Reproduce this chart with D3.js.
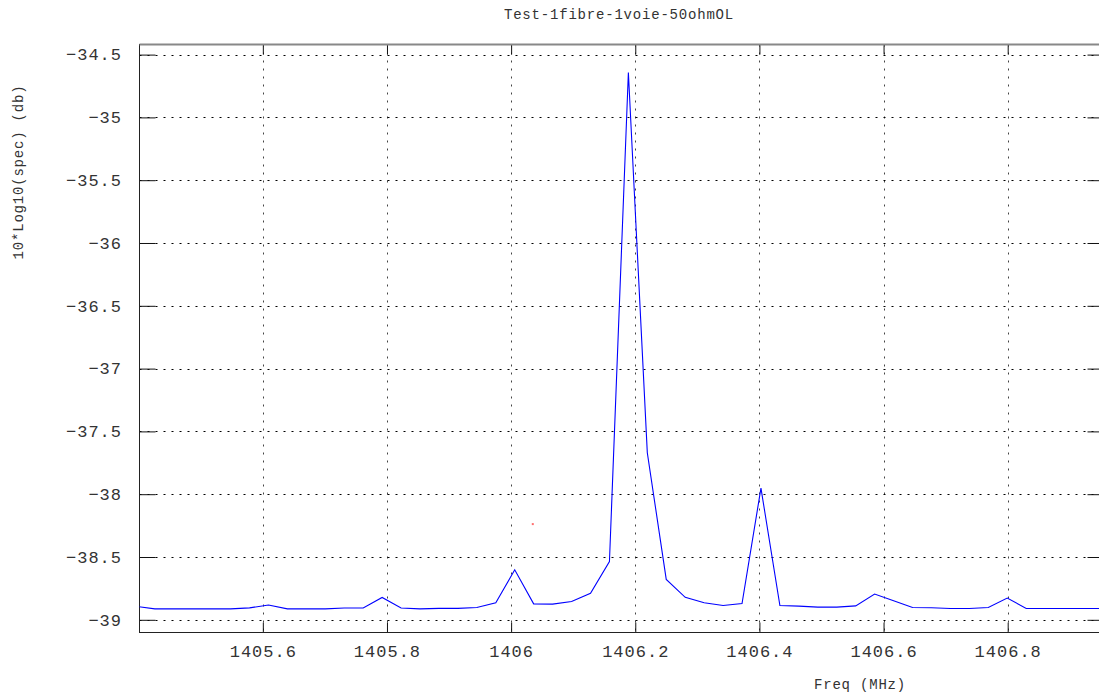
<!DOCTYPE html>
<html>
<head>
<meta charset="utf-8">
<script src="https://cdn.jsdelivr.net/npm/d3@7"></script>
<style>
  html, body { margin: 0; padding: 0; background: #ffffff; }
  svg { display: block; }
  text { font-family: "Liberation Mono", "DejaVu Sans Mono", monospace; fill: #333; }
</style>
</head>
<body>
<svg id="chart" width="1099" height="697"></svg>
<script>
// ---- data ----
const title = "Test-1fibre-1voie-50ohmOL";
const xLabel = "Freq (MHz)";
const yLabel = "10*Log10(spec) (db)";

const freq = [
  1405.3954, 1405.4260, 1405.4565, 1405.4870, 1405.5175, 1405.5480, 1405.5786,
  1405.6091, 1405.6396, 1405.6701, 1405.7006, 1405.7311, 1405.7617, 1405.7922,
  1405.8227, 1405.8532, 1405.8837, 1405.9142, 1405.9448, 1405.9753, 1406.0058,
  1406.0363, 1406.0668, 1406.0974, 1406.1279, 1406.1584, 1406.1889, 1406.2194,
  1406.2499, 1406.2805, 1406.3110, 1406.3415, 1406.3720, 1406.4025, 1406.4330,
  1406.4636, 1406.4941, 1406.5246, 1406.5551, 1406.5856, 1406.6162, 1406.6467,
  1406.6772, 1406.7077, 1406.7382, 1406.7687, 1406.7993, 1406.8298, 1406.8603,
  1406.8908, 1406.9213, 1406.9518
];
const spec = [
  -38.893, -38.913, -38.913, -38.913, -38.913, -38.913, -38.905,
  -38.882, -38.913, -38.913, -38.913, -38.906, -38.906, -38.822,
  -38.906, -38.913, -38.909, -38.909, -38.902, -38.865, -38.602,
  -38.873, -38.875, -38.854, -38.789, -38.537, -34.643, -37.670,
  -38.678, -38.821, -38.864, -38.886, -38.870, -37.952, -38.886,
  -38.891, -38.899, -38.899, -38.889, -38.795, -38.849, -38.902,
  -38.904, -38.910, -38.910, -38.902, -38.827, -38.910, -38.910,
  -38.910, -38.910, -38.910
];
const markerFreq = [1406.0349];
const markerSpec = [-38.238];

const xTicks = [1405.6, 1405.8, 1406, 1406.2, 1406.4, 1406.6, 1406.8];
const yTicks = [-34.5, -35, -35.5, -36, -36.5, -37, -37.5, -38, -38.5, -39];
const xDomain = [1405.4013, 1406.9479];
const yDomain = [-39.1011, -34.4196];

// ---- layout ----
const L = 139.5, R = 1099.5, T = 44.5, B = 632.5;

const svg = d3.select("#chart");
const x = d3.scaleLinear().domain(xDomain).range([L, R]);
const y = d3.scaleLinear().domain(yDomain).range([B, T]);

svg.append("defs").append("clipPath").attr("id", "plotclip")
  .append("rect").attr("x", L).attr("y", T).attr("width", R - L).attr("height", B - T);

// grid
const grid = svg.append("g");
grid.selectAll("line.gx").data(xTicks).join("line")
  .attr("x1", d => Math.round(x(d)) + 0.5).attr("x2", d => Math.round(x(d)) + 0.5)
  .attr("y1", T).attr("y2", B)
  .attr("stroke", "#444").attr("stroke-width", 1).attr("stroke-dasharray", "2,6");
grid.selectAll("line.gy").data(yTicks).join("line")
  .attr("y1", d => Math.round(y(d)) + 0.5).attr("y2", d => Math.round(y(d)) + 0.5)
  .attr("x1", L).attr("x2", R)
  .attr("stroke", "#000").attr("stroke-width", 1).attr("stroke-dasharray", "2,6");

// axes (ticks inward)
const fmt = d => String(d).replace("-", "\u2212");
const axL = svg.append("g").attr("transform", `translate(${L},0)`)
  .call(d3.axisRight(y).tickValues(yTicks).tickSize(16).tickFormat(""));
const axRt = svg.append("g").attr("transform", `translate(${R},0)`)
  .call(d3.axisLeft(y).tickValues(yTicks).tickSize(12).tickFormat(""));
const axB = svg.append("g").attr("transform", `translate(0,${B})`)
  .call(d3.axisTop(x).tickValues(xTicks).tickSize(10).tickFormat(""));
const axT = svg.append("g").attr("transform", `translate(0,${T})`)
  .call(d3.axisBottom(x).tickValues(xTicks).tickSize(10).tickFormat(""));
[axL, axRt, axB, axT].forEach(a => {
  a.select(".domain").remove();
  a.selectAll(".tick line").attr("stroke", "#111");
});

// frame
svg.append("rect").attr("x", L).attr("y", T).attr("width", R - L).attr("height", B - T)
  .attr("fill", "none").attr("stroke", "#222").attr("stroke-width", 1);
svg.append("line").attr("x1", L).attr("x2", R).attr("y1", T).attr("y2", T)
  .attr("stroke", "#888").attr("stroke-width", 2);

// tick labels
svg.append("g").selectAll("text").data(yTicks).join("text")
  .attr("x", 122).attr("y", d => y(d) + 5.8)
  .attr("text-anchor", "end")
  .style("font-size", "17px").style("letter-spacing", "1px")
  .text(fmt);
svg.append("g").selectAll("text").data(xTicks).join("text")
  .attr("x", d => x(d) + 0.5).attr("y", 656.5)
  .attr("text-anchor", "middle")
  .style("font-size", "17px").style("letter-spacing", "1px")
  .text(d => String(d));

// line
const line = d3.line().x((d, i) => x(freq[i])).y(d => y(d));
svg.append("path").datum(spec)
  .attr("clip-path", "url(#plotclip)")
  .attr("d", line)
  .attr("fill", "none").attr("stroke", "#0000ff").attr("stroke-width", 1.1)
  .attr("stroke-linejoin", "miter");

// marker
svg.append("g").selectAll("rect").data(markerSpec).join("rect")
  .attr("x", (d, i) => x(markerFreq[i]) - 1).attr("y", d => y(d) - 1)
  .attr("width", 2).attr("height", 2).attr("fill", "#ff7070");

// titles
svg.append("text").attr("x", 619).attr("y", 18.5).attr("text-anchor", "middle")
  .style("font-size", "14px").style("letter-spacing", "0.8px").text(title);
svg.append("text").attr("x", 860).attr("y", 689).attr("text-anchor", "middle")
  .style("font-size", "14px").style("letter-spacing", "0.8px").text(xLabel);
svg.append("text").attr("transform", "translate(23,172) rotate(-90)")
  .attr("text-anchor", "middle")
  .style("font-size", "14px").style("letter-spacing", "0.8px").text(yLabel);
</script>
</body>
</html>
